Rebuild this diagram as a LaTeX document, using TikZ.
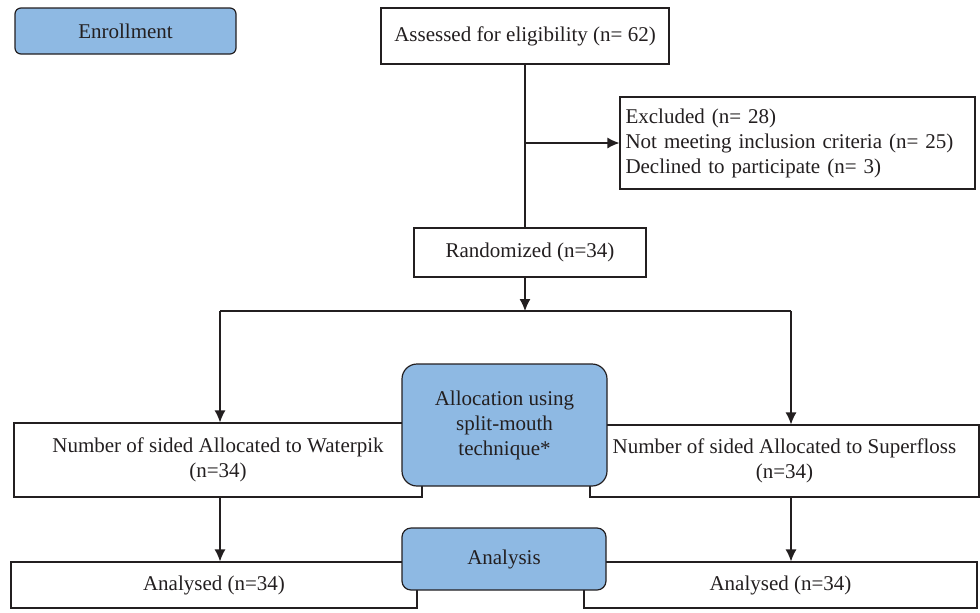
\documentclass[tikz,border=0pt]{standalone}
\usepackage{fontspec}
\setmainfont{Liberation Serif}
\usepackage{tikz}
\usetikzlibrary{arrows.meta,positioning}

\definecolor{stageblue}{RGB}{142,185,227}
\definecolor{inkgray}{RGB}{35,31,32}

\begin{document}
\begin{tikzpicture}[x=0.5pt, y=-0.5pt, font=\fontsize{10.5}{12.5}\selectfont, text=inkgray]
        % Setup the styles for the boxes
        \tikzset{plain box/.style={draw=inkgray,
                                   line width=0.6pt,
                                   fill=white,
                                   inner sep=1pt,
                                   align=center},
                 stage box/.style={plain box,
                                   fill=stageblue,
                                   rounded corners=4pt},
                 flow/.style={draw=inkgray,
                              line width=0.6pt,
                              -{Latex[length=6pt,width=5.5pt]}}}

        \useasboundingbox (0,0) rectangle (980,612);

        % Draw the white boxes
        \node[plain box, minimum width=144pt, minimum height=28pt] at (525, 36) (assess) {Assessed for eligibility (n= 62)};
        \node[plain box, minimum width=177.5pt, minimum height=46pt,
              text width=172pt, align=left, inner xsep=2.5pt] at (797.5, 143) (excl)
            {Excluded (n= 28)\\Not meeting inclusion criteria (n= 25)\\Declined to participate (n= 3)};
        \node[plain box, minimum width=116pt, minimum height=24.5pt] at (530, 252.5) (rand) {Randomized (n=34)};
        \node[plain box, minimum width=204pt, minimum height=37pt] at (218, 460) (wpik)
            {Number of sided Allocated to Waterpik\\(n=34)};
        \node[plain box, minimum width=194.5pt, minimum height=36pt] at (784.5, 461) (sflo)
            {Number of sided Allocated to Superfloss\\(n=34)};
        \node[plain box, minimum width=203pt, minimum height=23pt] at (214, 585) (anaL) {Analysed (n=34)};
        \node[plain box, minimum width=196.5pt, minimum height=23pt] at (780.5, 585) (anaR) {Analysed (n=34)};

        % Draw the blue stage boxes
        \node[stage box, rounded corners=3pt, minimum width=110.5pt, minimum height=23pt] at (125.5, 31) (enroll) {Enrollment};
        \node[stage box, rounded corners=7.5pt, minimum width=102.5pt, minimum height=61pt] at (504.5, 425) (alloc)
            {Allocation using\\split-mouth\\technique*};
        \node[stage box, rounded corners=4.5pt, minimum width=102pt, minimum height=31pt] at (504, 559) (anal) {Analysis};

        % Turning points of the connectors
        \coordinate (branch) at (assess.south |- excl.west);
        \coordinate (split)  at (525, 311);
        \coordinate (lturn)  at (220, 311);
        \coordinate (rturn)  at (791, 311);

        % Connect the boxes with arrows
        \draw[line width=0.6pt, draw=inkgray] (assess.south) -- (assess.south |- rand.north);
        \draw[flow] (branch) -- (excl.west);
        \draw[flow] (assess.south |- rand.south) -- (split);
        \draw[line width=0.6pt, draw=inkgray] (lturn) -- (rturn);
        \draw[flow] (lturn) -- (lturn |- wpik.north);
        \draw[flow] (rturn) -- (rturn |- sflo.north);
        \draw[flow] (lturn |- wpik.south) -- (lturn |- anaL.north);
        \draw[flow] (rturn |- sflo.south) -- (rturn |- anaR.north);
\end{tikzpicture}
\end{document}
